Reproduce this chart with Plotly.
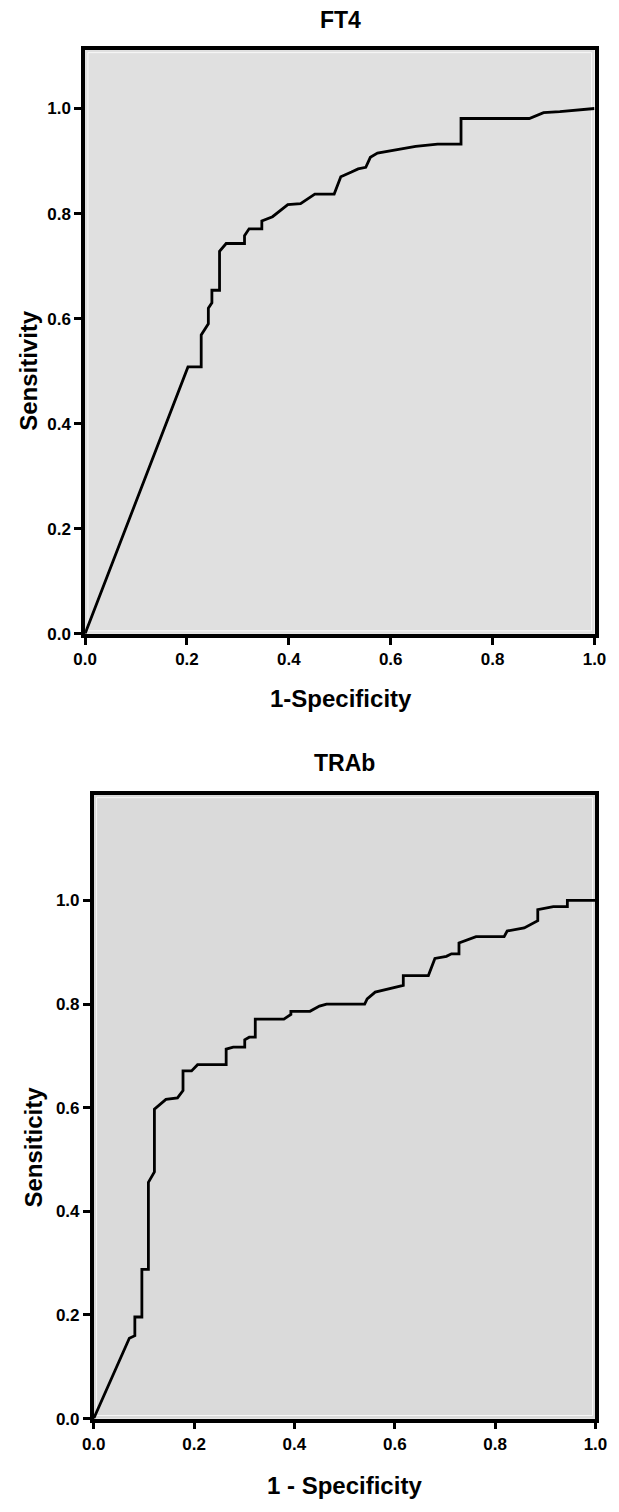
import plotly.graph_objects as go

# ---- data ----
ft4_fpr = [0, 0.202, 0.228, 0.228, 0.242, 0.242, 0.249, 0.249, 0.264, 0.264,
           0.277, 0.313, 0.313, 0.322, 0.347, 0.347, 0.368, 0.398, 0.423, 0.451,
           0.489, 0.502, 0.523, 0.536, 0.551, 0.560, 0.574, 0.617, 0.649, 0.692,
           0.738, 0.738, 0.872, 0.900, 0.932, 1.0]
ft4_tpr = [0, 0.508, 0.508, 0.569, 0.590, 0.620, 0.630, 0.654, 0.654, 0.728,
           0.743, 0.743, 0.758, 0.771, 0.771, 0.786, 0.794, 0.817, 0.819, 0.837,
           0.837, 0.870, 0.879, 0.885, 0.888, 0.907, 0.915, 0.922, 0.928, 0.932,
           0.932, 0.981, 0.981, 0.992, 0.994, 1.0]

trab_fpr = [0, 0.071, 0.082, 0.082, 0.096, 0.096, 0.109, 0.109, 0.121, 0.121,
            0.144, 0.167, 0.178, 0.178, 0.195, 0.207, 0.264, 0.264, 0.278, 0.301,
            0.301, 0.310, 0.322, 0.322, 0.379, 0.393, 0.393, 0.431, 0.450, 0.464,
            0.540, 0.545, 0.561, 0.617, 0.617, 0.667, 0.680, 0.703, 0.713, 0.728,
            0.728, 0.762, 0.818, 0.824, 0.858, 0.885, 0.885, 0.916, 0.944, 0.944,
            1.0]
trab_tpr = [0, 0.155, 0.160, 0.196, 0.196, 0.288, 0.288, 0.456, 0.476, 0.597,
            0.616, 0.619, 0.633, 0.671, 0.671, 0.683, 0.683, 0.713, 0.717, 0.717,
            0.731, 0.736, 0.736, 0.771, 0.771, 0.780, 0.786, 0.786, 0.796, 0.800,
            0.800, 0.810, 0.823, 0.836, 0.855, 0.855, 0.888, 0.892, 0.897, 0.897,
            0.918, 0.930, 0.930, 0.941, 0.947, 0.961, 0.982, 0.988, 0.988, 1.0,
            1.0]

tick_vals = [0.0, 0.2, 0.4, 0.6, 0.8, 1.0]
tick_text = ["0.0", "0.2", "0.4", "0.6", "0.8", "1.0"]

titles = ["FT4", "TRAb"]
x_titles = ["1-Specificity", "1 - Specificity"]
y_titles = ["Sensitivity", "Sensiticity"]

W, H = 619, 1512
FONT = "Liberation Sans"


def px_x(p):
    return p / W


def px_y(p):
    return 1 - p / H


fig = go.Figure()
fig.add_trace(go.Scatter(x=ft4_fpr, y=ft4_tpr, mode="lines",
                         line=dict(color="black", width=2.8),
                         xaxis="x", yaxis="y", showlegend=False))
fig.add_trace(go.Scatter(x=trab_fpr, y=trab_tpr, mode="lines",
                         line=dict(color="black", width=2.8),
                         xaxis="x2", yaxis="y2", showlegend=False))

tickfont = dict(family=FONT, size=17, color="black", weight="bold")


def xaxis(domain, anchor):
    return dict(domain=domain, anchor=anchor, range=[0, 1],
                tickvals=tick_vals, ticktext=tick_text, ticks="outside",
                ticklen=7, tickwidth=3, tickcolor="black",
                showline=True, linecolor="black", linewidth=3.5, mirror=True,
                showgrid=False, zeroline=False, tickfont=tickfont)


def yaxis(domain, anchor, top):
    return dict(domain=domain, anchor=anchor, range=[0, top],
                tickvals=tick_vals, ticktext=tick_text, ticks="outside",
                ticklen=7, tickwidth=3, tickcolor="black",
                showline=True, linecolor="black", linewidth=3.5, mirror=True,
                showgrid=False, zeroline=False, tickfont=tickfont)


def inner_frame(xr, yr, wpx, hpx):
    ix, iy = 3.0 / wpx, 3.0 / hpx
    return dict(type="rect", xref=xr, yref=yr, x0=ix, x1=1 - ix, y0=iy, y1=1 - iy,
                line=dict(color="rgba(255,255,255,0.8)", width=1), layer="below")


fig.update_layout(
    width=W, height=H,
    margin=dict(l=0, r=0, t=0, b=0),
    paper_bgcolor="white",
    plot_bgcolor="#e0e0e0",
    xaxis=xaxis([px_x(76), px_x(606)], "y"),
    yaxis=yaxis([px_y(638), px_y(50)], "x", 1.112),
    xaxis2=xaxis([px_x(85), px_x(607)], "y2"),
    yaxis2=yaxis([px_y(1428), px_y(800)], "x2", 1.204),
    shapes=[
        dict(type="rect", xref="x2 domain", yref="y2 domain", x0=0, x1=1, y0=0, y1=1,
             fillcolor="#dadada", line=dict(width=0), layer="below"),
        inner_frame("x domain", "y domain", 530, 588),
        inner_frame("x2 domain", "y2 domain", 522, 628),
    ],
)

ann = []
title_font = dict(family=FONT, size=23, color="black", weight="bold")
axis_font = dict(family=FONT, size=24, color="black", weight="bold")
ann.append(dict(text=titles[0], x=px_x(342), y=px_y(20), xref="paper", yref="paper",
                showarrow=False, font=title_font, xanchor="center", yanchor="middle"))
ann.append(dict(text=titles[1], x=px_x(346), y=px_y(768), xref="paper", yref="paper",
                showarrow=False, font=title_font, xanchor="center", yanchor="middle"))
ann.append(dict(text=x_titles[0], x=px_x(342), y=px_y(703), xref="paper", yref="paper",
                showarrow=False, font=axis_font, xanchor="center", yanchor="middle"))
ann.append(dict(text=x_titles[1], x=px_x(346), y=px_y(1495), xref="paper", yref="paper",
                showarrow=False, font=axis_font, xanchor="center", yanchor="middle"))
ann.append(dict(text=y_titles[0], x=px_x(17), y=px_y(373), xref="paper", yref="paper",
                showarrow=False, font=axis_font, textangle=-90,
                xanchor="center", yanchor="middle"))
ann.append(dict(text=y_titles[1], x=px_x(22), y=px_y(1155), xref="paper", yref="paper",
                showarrow=False, font=axis_font, textangle=-90,
                xanchor="center", yanchor="middle"))
fig.update_layout(annotations=ann)

fig.write_html("out.html",
               config={"displayModeBar": False},
               post_script="document.body.style.margin='0';document.body.style.padding='0';")
